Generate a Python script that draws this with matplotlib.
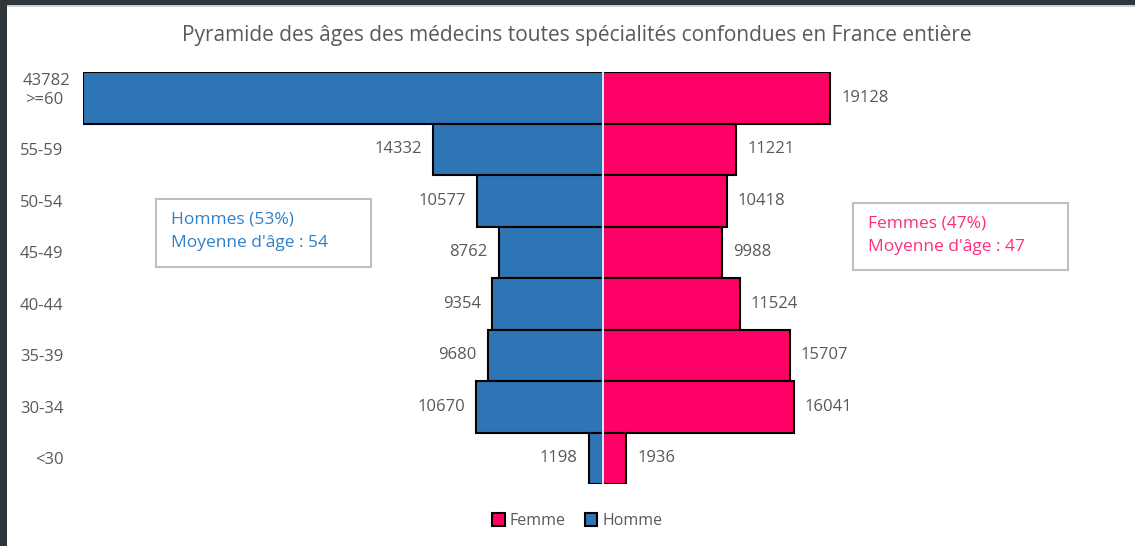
import matplotlib
matplotlib.use("Agg")
import matplotlib.pyplot as plt
from matplotlib.patches import Patch, Rectangle

ages = [">=60", "55-59", "50-54", "45-49", "40-44", "35-39", "30-34", "<30"]
hommes = [43782, 14332, 10577, 8762, 9354, 9680, 10670, 1198]
femmes = [19128, 11221, 10418, 9988, 11524, 15707, 16041, 1936]

title = "Pyramide des âges des médecins toutes spécialités confondues en France entière"
box_h = ["Hommes (53%)", "Moyenne d'âge : 54"]
box_f = ["Femmes (47%)", "Moyenne d'âge : 47"]

BLUE = "#2e75b6"
PINK = "#ff0066"
GREY = "#595959"
W, H = 1135, 546

plt.rcParams["font.family"] = ["Open Sans", "DejaVu Sans"]

fig = plt.figure(figsize=(W / 100, H / 100), dpi=100)

# screenshot frame (dark border top / left)
fig.add_artist(Rectangle((0, 1 - 5 / H), 1, 5 / H, transform=fig.transFigure,
                         color="#30343b", lw=0))
fig.add_artist(Rectangle((0, 1 - 7 / H), 1, 2 / H, transform=fig.transFigure,
                         color="#d0d0d0", lw=0))
fig.add_artist(Rectangle((0, 0), 7 / W, 1, transform=fig.transFigure,
                         color="#30343b", lw=0))

ax = fig.add_axes([83 / W, (H - 484) / H, 1040 / W, 412 / H])
y = list(range(len(ages)))
lim = max(hommes)
ax.barh(y, [-v for v in hommes], height=1.0, color=BLUE, edgecolor="black", lw=1.5)
ax.barh(y, femmes, height=1.0, color=PINK, edgecolor="black", lw=1.5)
ax.axvline(0, color="#d6e4f2", lw=1.5, zorder=3)

ax.set_xlim(-lim, lim)
ax.set_ylim(len(ages) - 0.5, -0.5)
ax.set_yticks(y)
ax.set_yticklabels(ages, fontsize=12, color=GREY)
ax.tick_params(axis="y", length=0, pad=14)
ax.set_xticks([])
for s in ax.spines.values():
    s.set_visible(False)

for i, (h, f) in enumerate(zip(hommes, femmes)):
    if h == lim:
        ax.annotate(str(h), (-h, i), xytext=(-26, 12), textcoords="offset points",
                    ha="center", va="center", fontsize=12, color=GREY,
                    annotation_clip=False)
    else:
        ax.annotate(str(h), (-h, i), xytext=(-8, 0), textcoords="offset points",
                    ha="right", va="center", fontsize=12, color=GREY)
    ax.annotate(str(f), (f, i), xytext=(8, 0), textcoords="offset points",
                ha="left", va="center", fontsize=12, color=GREY)

fig.text(577 / W, 1 - 35 / H, title, ha="center", va="center", fontsize=15, color=GREY)

# info boxes
for (x0, y0, w, h), lines, col in [((156, 199, 215, 68), box_h, "#2f80c8"),
                                   ((853, 203, 215, 67), box_f, "#ff2d7d")]:
    fig.add_artist(Rectangle((x0 / W, 1 - (y0 + h) / H), w / W, h / H,
                             transform=fig.transFigure, fill=False,
                             ec="#bfbfbf", lw=1.5))
    for k, t in enumerate(lines):
        fig.text((x0 + 15) / W, 1 - (y0 + 20 + 24 * k) / H, t, ha="left",
                 va="center", fontsize=12.5, color=col)

fig.legend(handles=[Patch(fc=PINK, ec="black", lw=1.5, label="Femme"),
                    Patch(fc=BLUE, ec="black", lw=1.5, label="Homme")],
           loc="center", bbox_to_anchor=(577 / W, 1 - 521 / H), ncol=2,
           frameon=False, handlelength=0.8, handleheight=0.8, handletextpad=0.3,
           columnspacing=1.2, labelcolor=GREY, fontsize=11.5)

fig.savefig("out.png", dpi=100)
